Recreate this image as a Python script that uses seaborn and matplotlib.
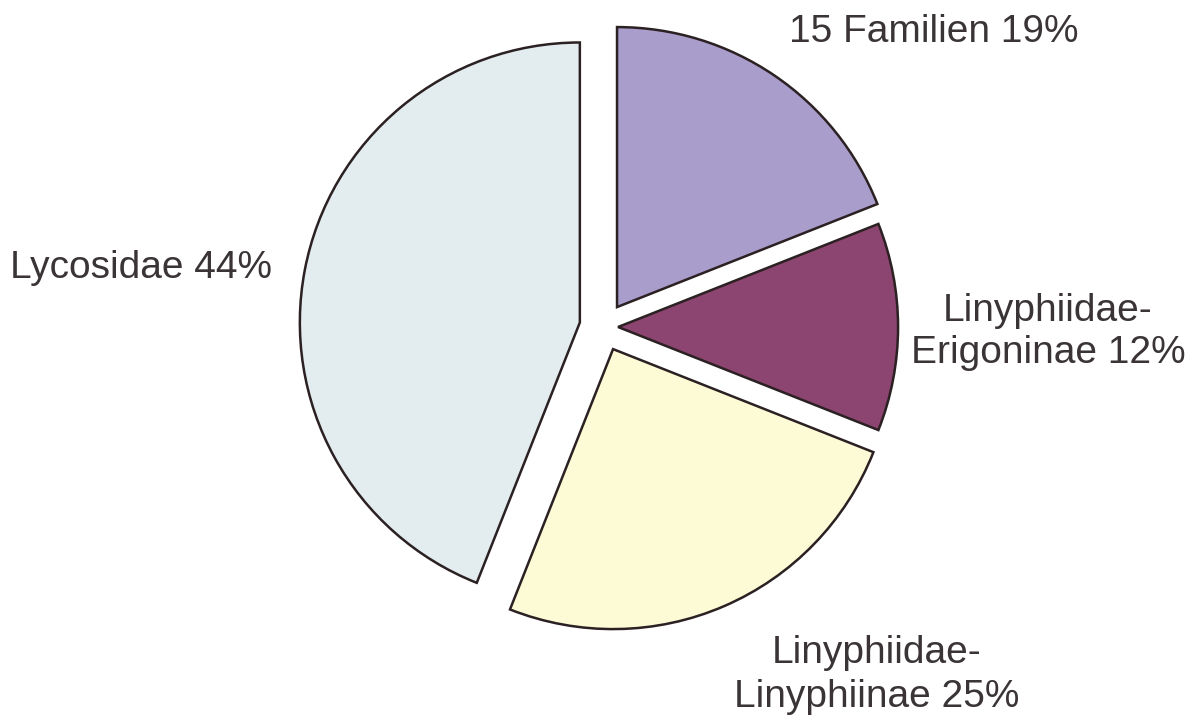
import matplotlib.pyplot as plt
import seaborn as sns

# Spinnenfamilien (Anteil in %)
gruppen = ['15 Familien', 'Linyphiidae-\nErigoninae', 'Linyphiidae-\nLinyphiinae', 'Lycosidae']
anteile = [19, 12, 25, 44]
farben = ['#a89dcb', '#8c4470', '#fdfbd6', '#e3edf0']
abstand = [0.086, 0.052, 0.086, 0.086]

sns.set_theme(style="white")
plt.rcParams['font.family'] = ['Liberation Sans', 'DejaVu Sans']

fig = plt.figure(figsize=(11.87, 7.2), dpi=100)
ax = fig.add_axes([0, 0, 1, 1])

keile, _ = ax.pie(anteile, colors=farben, explode=abstand, startangle=90,
                  counterclock=False, radius=1,
                  wedgeprops=dict(edgecolor='#2b2022', linewidth=1.8))

# Beschriftungen
textfarbe = '#3a3436'
etiketten = [f"{g} {a}%" for g, a in zip(gruppen, anteile)]
positionen = [(1.18, 1.055, 1.2), (1.5875, -0.018, 1.2),
              (0.977, -1.243, 1.3), (-1.652, 0.211, 1.2)]
for text, (x, y, ls) in zip(etiketten, positionen):
    ax.text(x, y, text, ha='center', va='center', multialignment='center',
            fontsize=28, color=textfarbe, linespacing=ls)

ax.set_xlim(-603.5 / 280, (1187 - 603.5) / 280)
ax.set_ylim(-(720 - 327) / 280, 327 / 280)
ax.set_aspect('auto')
ax.axis('off')

plt.savefig('out.png', dpi=100, facecolor='white')
